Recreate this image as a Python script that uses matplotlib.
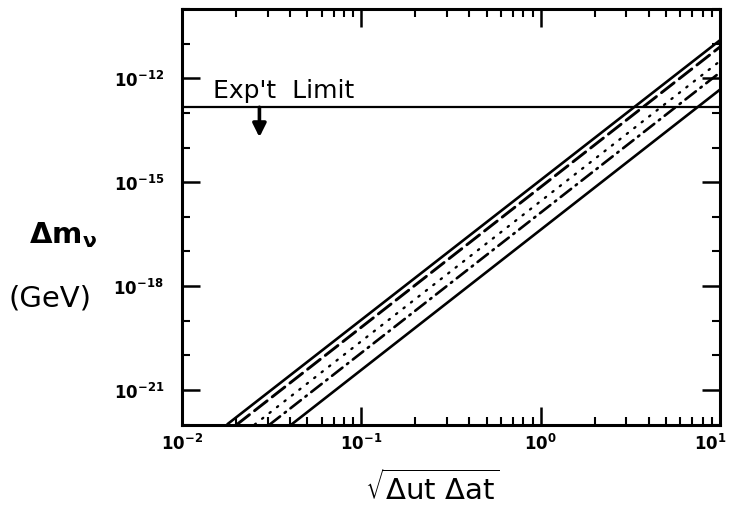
import numpy as np
import matplotlib.pyplot as plt
from matplotlib.ticker import FixedLocator, NullFormatter
from matplotlib.transforms import ScaledTranslation

# band of predictions: (x where the curve leaves the bottom axis, y there) -> (x = 10, y there)
line_x0 = [0.0178, 0.0202, 0.0254, 0.0308, 0.0407]
line_y0 = [1e-22, 1e-22, 1e-22, 1e-22, 1e-22]
line_x1 = [10.0, 10.0, 10.0, 10.0, 10.0]
line_y1 = [1.28e-11, 8.2e-12, 3.2e-12, 1.5e-12, 4.8e-13]
line_styles = ["-", (0, (5.5, 2.2)), (0, (0.6, 3.4)), (0, (5, 2.2, 0.6, 2.2)), "-"]
line_widths = [1.9, 2.1, 1.7, 1.9, 1.9]

exp_limit = 1.46e-13
arrow_x = 0.027
arrow_tip = 2.0e-14

ytick_major = [1e-21, 1e-18, 1e-15, 1e-12]
ytick_labels = [r"$\mathbf{10^{-21}}$", r"$\mathbf{10^{-18}}$",
                r"$\mathbf{10^{-15}}$", r"$\mathbf{10^{-12}}$"]
xtick_major = [1e-2, 1e-1, 1e0, 1e1]
xtick_labels = [r"$\mathbf{10^{-2}}$", r"$\mathbf{10^{-1}}$",
                r"$\mathbf{10^{0}}$", r"$\mathbf{10^{1}}$"]

fig = plt.figure(figsize=(7.29, 5.06), dpi=100)
ax = fig.add_axes([0.2497, 0.159, 0.7383, 0.821])

for xa, ya, xb, yb, ls, lw in zip(line_x0, line_y0, line_x1, line_y1, line_styles, line_widths):
    ax.plot([xa, xb], [ya, yb], color="black", linestyle=ls, linewidth=lw,
            solid_capstyle="butt", dash_capstyle="round")

ax.axhline(exp_limit, color="black", linewidth=1.6)
ax.annotate("", xy=(arrow_x, arrow_tip), xytext=(arrow_x, exp_limit),
            arrowprops=dict(arrowstyle="-|>", color="black", lw=2.6,
                            mutation_scale=20, shrinkA=0, shrinkB=0))
ax.text(0.0149, 2.8e-13, "Exp't  Limit", fontsize=18, family="DejaVu Sans",
        va="baseline", ha="left")

ax.set_xscale("log")
ax.set_yscale("log")
ax.set_xlim(1e-2, 1e1)
ax.set_ylim(1e-22, 1e-10)

ax.xaxis.set_major_locator(FixedLocator(xtick_major))
ax.set_xticklabels(xtick_labels, fontsize=12)
minor_x = [m * 10.0 ** e for e in (-2, -1, 0) for m in range(2, 10)]
ax.xaxis.set_minor_locator(FixedLocator(minor_x))
ax.xaxis.set_minor_formatter(NullFormatter())

ax.yaxis.set_major_locator(FixedLocator(ytick_major))
ax.set_yticklabels(ytick_labels, fontsize=12)
minor_y = [10.0 ** e for e in range(-22, -9) if 10.0 ** e not in ytick_major]
ax.yaxis.set_minor_locator(FixedLocator(minor_y))
ax.yaxis.set_minor_formatter(NullFormatter())

ax.tick_params(which="both", direction="in", top=True, right=True, color="black")
ax.tick_params(which="major", length=13, width=1.8)
ax.tick_params(which="minor", length=6, width=1.5)
ax.tick_params(axis="y", which="major", pad=13)
ax.tick_params(axis="x", which="major", pad=6)
for s in ax.spines.values():
    s.set_linewidth(2.2)

# keep the last x label inside the figure
last = ax.get_xticklabels()[-1]
last.set_transform(last.get_transform() + ScaledTranslation(-7 / 72, 0, fig.dpi_scale_trans))

fig.text(0.04, 0.535, r"$\mathbf{\Delta m_{\nu}}$", fontsize=21, ha="left", va="center")
fig.text(0.012, 0.41, "(GeV)", fontsize=21, ha="left", va="center",
         family="DejaVu Sans")
fig.text(0.593, 0.035, r"$\sqrt{\Delta \mathrm{ut}\ \Delta \mathrm{at}}$", fontsize=21,
         ha="center", va="center")

fig.savefig("out.png", dpi=100)
